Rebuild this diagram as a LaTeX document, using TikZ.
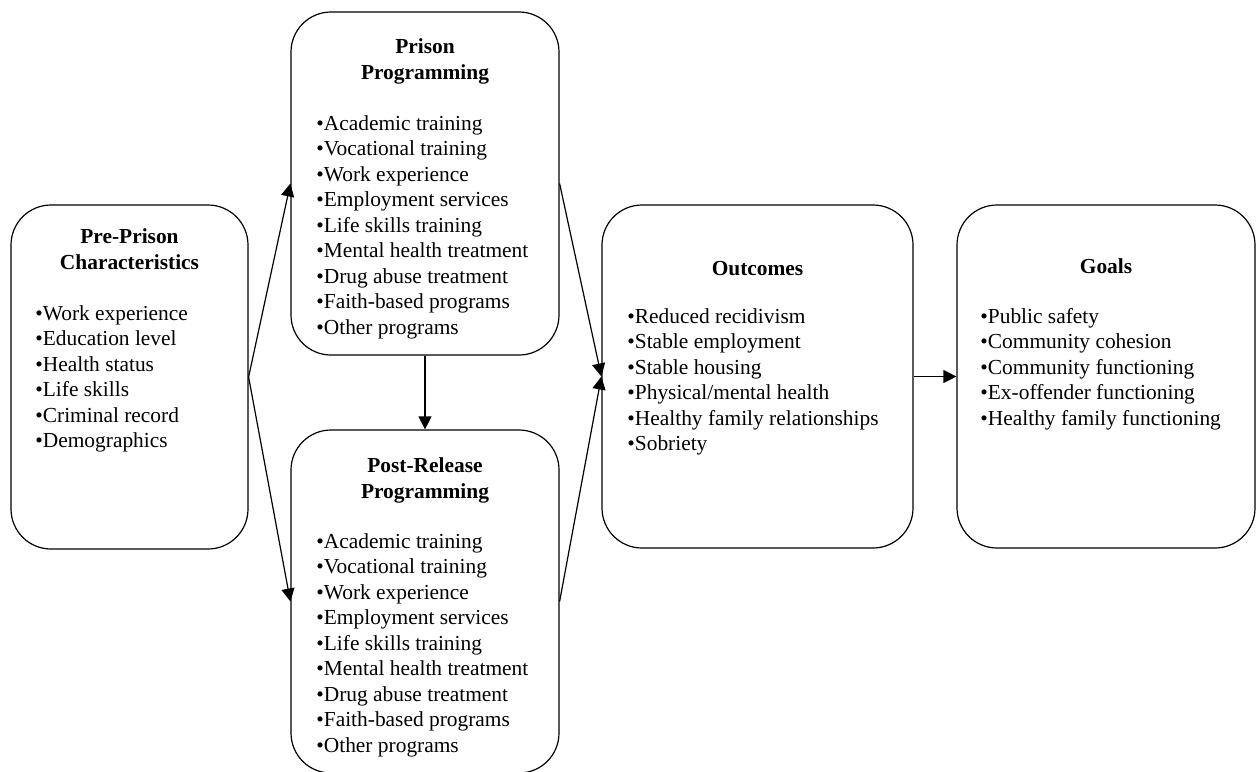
\documentclass[tikz,border=0pt]{standalone}
\usepackage{fontspec}
\setmainfont{Liberation Serif}
\usetikzlibrary{arrows.meta}
\tikzset{
  box/.style={draw, line width=0.6pt, rounded corners=20pt, inner sep=0pt},
  ttl/.style={font=\fontsize{10.7}{13}\selectfont\bfseries, align=center, inner sep=0pt, anchor=base},
  lst/.style={font=\fontsize{10.7}{12.75}\selectfont, align=left, inner sep=0pt, anchor=base west},
  arr/.style={line width=0.6pt, -{Triangle[length=6.5pt,width=6.5pt]}}
}
\begin{document}
\begin{tikzpicture}[x=0.5pt,y=-0.5pt]
\useasboundingbox (0,0) rectangle (1256,771);
% boxes
\node[box, minimum width=118.5pt, minimum height=172pt] (pre) at (129.5,377) {};
\node[box, minimum width=134pt, minimum height=171.5pt] (prog) at (425,183.5) {};
\node[box, minimum width=134pt, minimum height=171.5pt] (post) at (425,601.5) {};
\node[box, minimum width=155.5pt, minimum height=171.5pt] (outc) at (757.5,376.5) {};
\node[box, minimum width=149pt, minimum height=171.5pt] (goals) at (1106,376.5) {};
% titles (anchored at the baseline of their last line)
\node[ttl] (preT) at (129.5,269) {Pre-Prison\\Characteristics};
\node[ttl] (progT) at (425,79) {Prison\\Programming};
\node[ttl] (postT) at (425,498) {Post-Release\\Programming};
\node[ttl] (outcT) at (757.5,275) {Outcomes};
\node[ttl] (goalsT) at (1106,273) {Goals};
% lists (anchored at the baseline of their last line)
\node[lst] (preL) at (35,447.5) {•Work experience\\•Education level\\•Health status\\•Life skills\\•Criminal record\\•Demographics};
\node[lst] (progL) at (316,334) {•Academic training\\•Vocational training\\•Work experience\\•Employment services\\•Life skills training\\•Mental health treatment\\•Drug abuse treatment\\•Faith-based programs\\•Other programs};
\node[lst] (postL) at (316,752) {•Academic training\\•Vocational training\\•Work experience\\•Employment services\\•Life skills training\\•Mental health treatment\\•Drug abuse treatment\\•Faith-based programs\\•Other programs};
\node[lst] (outcL) at (627,450.5) {•Reduced recidivism\\•Stable employment\\•Stable housing\\•Physical/mental health\\•Healthy family relationships\\•Sobriety};
\node[lst] (goalsL) at (980,425) {•Public safety\\•Community cohesion\\•Community functioning\\•Ex-offender functioning\\•Healthy family functioning};
% connectors
\draw[arr] (pre.east) -- (prog.west);
\draw[arr] (pre.east) -- (post.west);
\draw[arr] (prog.south) -- (post.north);
\draw[arr] (prog.east) -- (outc.west);
\draw[arr] (post.east) -- (outc.west);
\draw[arr] (outc.east) -- (goals.west);
\end{tikzpicture}
\end{document}
